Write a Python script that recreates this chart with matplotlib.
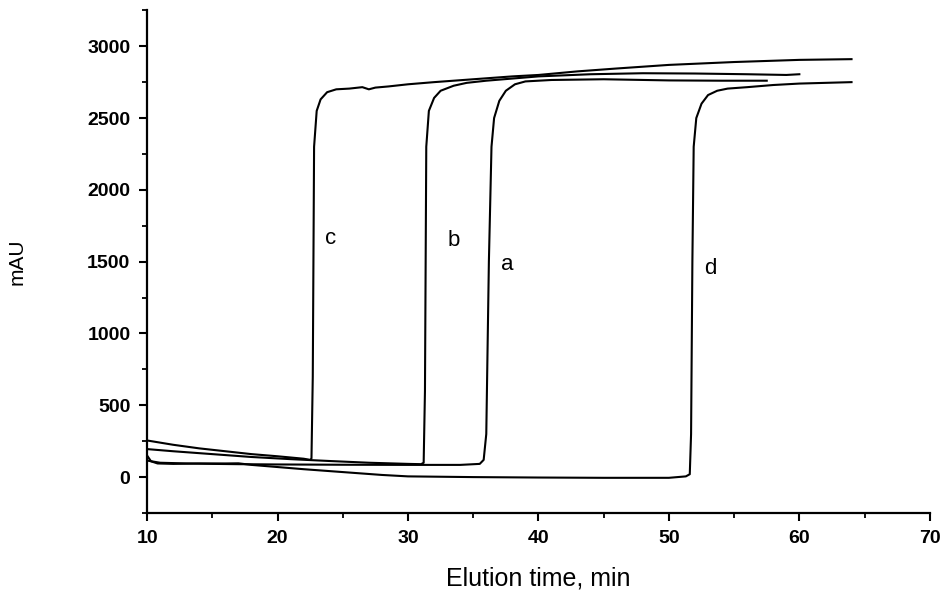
import matplotlib
matplotlib.use("Agg")
import matplotlib.pyplot as plt
from matplotlib.ticker import MultipleLocator

plt.rcParams['font.family'] = ['Liberation Sans', 'DejaVu Sans']

# Curve c
c_x = [10, 12, 14, 16, 18, 20, 22, 22.5, 22.6, 22.7, 22.8, 23.0, 23.3, 23.8, 24.5, 25.5,
       26.5, 27.0, 27.5, 28.5, 30, 32, 35, 38, 40, 43, 46, 50, 55, 60, 64]
c_y = [255, 225, 200, 180, 160, 145, 128, 120, 130, 700, 2300, 2550, 2630, 2680, 2700, 2705,
       2715, 2700, 2712, 2720, 2735, 2750, 2770, 2790, 2800, 2825, 2845, 2870, 2890, 2905, 2910]

# Curve b
b_x = [10, 12, 15, 18, 21, 24, 27, 30, 31.0, 31.2, 31.3, 31.4, 31.6, 32.0, 32.5, 33.5,
       34.5, 36, 38, 40, 44, 48, 52, 56, 59, 60]
b_y = [195, 180, 160, 140, 125, 112, 100, 92, 90, 100, 600, 2300, 2550, 2640, 2690, 2725,
       2745, 2760, 2775, 2790, 2805, 2812, 2810, 2805, 2800, 2805]

# Curve a
a_x = [10, 11, 13, 15, 17, 20, 25, 30, 34, 35.5, 35.8, 36.0, 36.2, 36.4, 36.6, 37.0,
       37.5, 38.2, 39, 41, 45, 50, 54, 57.5]
a_y = [115, 100, 95, 92, 90, 88, 86, 85, 85, 92, 120, 300, 1500, 2300, 2500, 2620,
       2690, 2735, 2755, 2765, 2770, 2762, 2760, 2760]

# Curve d
d_x = [10, 10.3, 10.8, 12, 14, 16, 17, 18, 20, 22, 25, 28, 30, 35, 40, 45, 50, 51.3,
       51.6, 51.7, 51.8, 51.9, 52.1, 52.5, 53, 53.7, 54.5, 56, 58, 60, 62, 64]
d_y = [150, 110, 95, 92, 95, 95, 96, 85, 70, 55, 35, 15, 5, 0, -3, -5, -5, 5,
       20, 300, 1500, 2300, 2500, 2600, 2660, 2690, 2705, 2715, 2730, 2740, 2745, 2750]

labels = ['c', 'b', 'a', 'd']
label_x = [23.6, 33.0, 37.1, 52.7]
label_y = [1660, 1650, 1480, 1450]

fig = plt.figure(figsize=(9.43, 5.9), dpi=100)
ax = fig.add_axes([0.156, 0.1305, 0.830, 0.852])

for xs, ys in [(c_x, c_y), (b_x, b_y), (a_x, a_y), (d_x, d_y)]:
    ax.plot(xs, ys, color='black', lw=1.5)

for t, lx, ly in zip(labels, label_x, label_y):
    ax.text(lx, ly, t, fontsize=16, ha='left', va='center')

ax.set_xlim(10, 70)
ax.set_ylim(-250, 3250)
ax.xaxis.set_major_locator(MultipleLocator(10))
ax.xaxis.set_minor_locator(MultipleLocator(5))
ax.yaxis.set_major_locator(MultipleLocator(500))
ax.yaxis.set_minor_locator(MultipleLocator(250))
for s in ['top', 'right']:
    ax.spines[s].set_visible(False)
for s in ['left', 'bottom']:
    ax.spines[s].set_linewidth(1.6)
ax.tick_params(which='major', direction='out', length=6, width=1.5, labelsize=14, pad=6)
ax.tick_params(which='minor', direction='out', length=3.5, width=1.3)
for lab in ax.get_xticklabels() + ax.get_yticklabels():
    lab.set_fontweight('bold')

ax.set_xlabel('Elution time, min', fontsize=18, labelpad=14)
ax.set_ylabel('mAU', fontsize=15, labelpad=44)

fig.savefig('out.png', dpi=100)
